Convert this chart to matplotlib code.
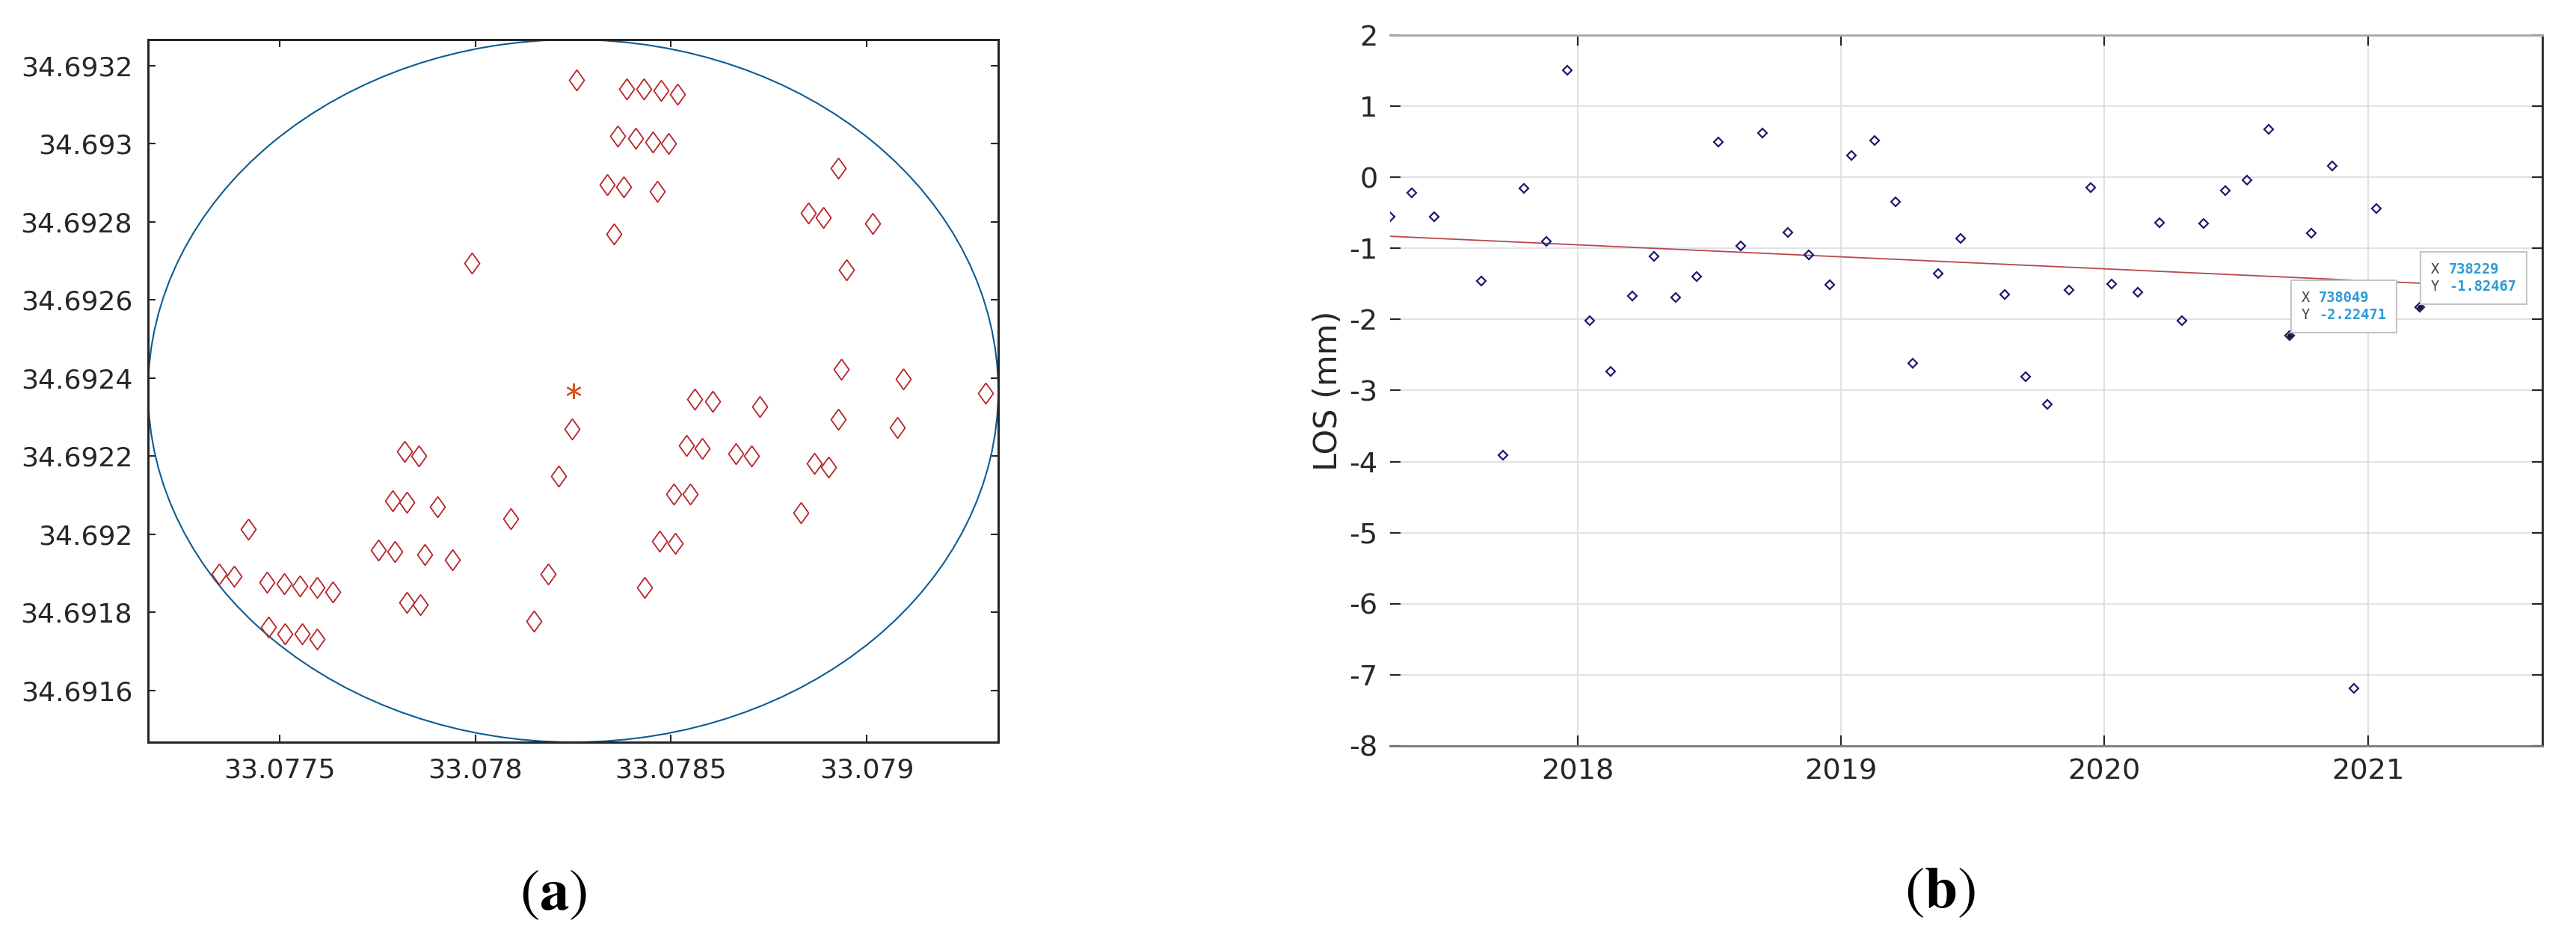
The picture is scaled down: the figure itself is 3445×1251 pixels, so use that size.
import numpy as np
import matplotlib
matplotlib.use("Agg")
import matplotlib.pyplot as plt
import matplotlib.dates as mdates
from matplotlib.patches import Ellipse
from matplotlib.offsetbox import TextArea, HPacker, VPacker, AnnotationBbox

plt.rcParams['font.family'] = ['DejaVu Sans']
plt.rcParams['axes.unicode_minus'] = False
plt.rcParams['mathtext.fontset'] = 'stix'

# ---------------- data: panel (a) ----------------
PS_LON = [33.078258, 33.078387, 33.078431, 33.078475, 33.078516, 33.078364, 33.078409,
          33.078453, 33.078494, 33.078926, 33.078337, 33.078378, 33.078465, 33.078851,
          33.078889, 33.079015, 33.078354, 33.077992, 33.078947, 33.078935, 33.079092,
          33.079302, 33.078561, 33.078605, 33.078726, 33.078926, 33.079077, 33.078248,
          33.078540, 33.078580, 33.078665, 33.078706, 33.077819, 33.077855, 33.078865,
          33.078901, 33.078212, 33.078506, 33.078549, 33.077789, 33.077825, 33.077903,
          33.078831, 33.078091, 33.077420, 33.078470, 33.078511, 33.077753, 33.077794,
          33.077872, 33.077942, 33.078187, 33.077346, 33.077384, 33.077469, 33.077512,
          33.077553, 33.077596, 33.077637, 33.078433, 33.077826, 33.077860, 33.078149,
          33.077473, 33.077515, 33.077558, 33.077596]
PS_LAT = [34.693163, 34.693141, 34.693141, 34.693137, 34.693127, 34.693020, 34.693015,
          34.693005, 34.693000, 34.692938, 34.692895, 34.692889, 34.692879, 34.692822,
          34.692811, 34.692795, 34.692769, 34.692695, 34.692677, 34.692422, 34.692397,
          34.692362, 34.692345, 34.692341, 34.692326, 34.692294, 34.692274, 34.692270,
          34.692228, 34.692219, 34.692207, 34.692201, 34.692211, 34.692201, 34.692181,
          34.692171, 34.692149, 34.692102, 34.692102, 34.692086, 34.692081, 34.692071,
          34.692055, 34.692039, 34.692013, 34.691982, 34.691977, 34.691960, 34.691956,
          34.691947, 34.691935, 34.691897, 34.691897, 34.691893, 34.691877, 34.691873,
          34.691868, 34.691863, 34.691851, 34.691863, 34.691826, 34.691820, 34.691778,
          34.691761, 34.691744, 34.691744, 34.691731]
CENTER_LON = 33.078250
CENTER_LAT = 34.692367
RADIUS_LON = 0.001085
RADIUS_LAT = 0.000900
A_XTICKS = [33.0775, 33.078, 33.0785, 33.079]
A_XTICKLABELS = ['33.0775', '33.078', '33.0785', '33.079']
A_YTICKS = [34.6916, 34.6918, 34.692, 34.6922, 34.6924, 34.6926, 34.6928, 34.693, 34.6932]
A_YTICKLABELS = ['34.6916', '34.6918', '34.692', '34.6922', '34.6924', '34.6926',
                 '34.6928', '34.693', '34.6932']

# ---------------- data: panel (b) ----------------
DATES = ['2017-04-16', '2017-05-16', '2017-06-16', '2017-08-20', '2017-09-20', '2017-10-19',
         '2017-11-19', '2017-12-18', '2018-01-18', '2018-02-16', '2018-03-18', '2018-04-17',
         '2018-05-17', '2018-06-15', '2018-07-15', '2018-08-15', '2018-09-14', '2018-10-20',
         '2018-11-18', '2018-12-17', '2019-01-16', '2019-02-17', '2019-03-18', '2019-04-11',
         '2019-05-16', '2019-06-16', '2019-08-16', '2019-09-14', '2019-10-14', '2019-11-14',
         '2019-12-14', '2020-01-12', '2020-02-17', '2020-03-18', '2020-04-18', '2020-05-18',
         '2020-06-17', '2020-07-17', '2020-08-16', '2020-09-15', '2020-10-15', '2020-11-13',
         '2020-12-13', '2021-01-13', '2021-03-14']
LOS_MM = [-0.55, -0.22, -0.55, -1.46, -3.91, -0.16, -0.90, 1.51, -2.02, -2.73, -1.67, -1.11,
          -1.69, -1.40, 0.50, -0.97, 0.62, -0.78, -1.09, -1.51, 0.31, 0.52, -0.34, -2.62,
          -1.35, -0.86, -1.65, -2.81, -3.19, -1.59, -0.14, -1.50, -1.62, -0.64, -2.02, -0.65,
          -0.19, -0.04, 0.67, -2.22471, -0.79, 0.16, -7.19, -0.44, -1.82467]
TREND_DATES = ['2017-04-16', '2021-03-14']
TREND_MM = [-0.83, -1.49]
TIP_DATES = ['2020-09-15', '2021-03-14']
TIP_X = ['738049', '738229']
TIP_Y = ['-2.22471', '-1.82467']
TIP_VALUES = [-2.22471, -1.82467]
B_XLIM = ['2017-04-16', '2021-08-31']
B_YTICKS = [-8, -7, -6, -5, -4, -3, -2, -1, 0, 1, 2]
B_YTICKLABELS = ['-8', '-7', '-6', '-5', '-4', '-3', '-2', '-1', '0', '1', '2']
PANEL_LABELS = [r'$(\mathbf{a})$', r'$(\mathbf{b})$']

W, H = 3445, 1251
fig = plt.figure(figsize=(W / 100, H / 100), dpi=100)
fig.patch.set_facecolor('white')

# ================= panel (a) =================
axa = fig.add_axes([198 / W, 1 - 993 / H, (1335 - 198) / W, (993 - 53) / H])
ell = Ellipse((CENTER_LON, CENTER_LAT), 2 * RADIUS_LON, 2 * RADIUS_LAT,
              fill=False, edgecolor='#0d5c91', lw=1.5, zorder=2)
axa.add_patch(ell)
tall_diamond = [(0, 1), (0.72, 0), (0, -1), (-0.72, 0), (0, 1)]
axa.plot(PS_LON, PS_LAT, linestyle='none', marker=tall_diamond, ms=20,
         mfc='none', mec='#b8242a', mew=1.3, zorder=3)
axa.plot([CENTER_LON], [CENTER_LAT], linestyle='none', marker=(6, 2, 0), ms=15,
         mec='#d95319', mew=1.6, zorder=4)
axa.set_xlim(CENTER_LON - RADIUS_LON, CENTER_LON + RADIUS_LON)
axa.set_ylim(CENTER_LAT - RADIUS_LAT, CENTER_LAT + RADIUS_LAT)
axa.set_xticks(A_XTICKS)
axa.set_xticklabels(A_XTICKLABELS)
axa.set_yticks(A_YTICKS)
axa.set_yticklabels(A_YTICKLABELS)
axa.tick_params(direction='in', length=7, width=1.5, top=True, right=True,
                labelsize=26, colors='#262626', pad=15)
for s in axa.spines.values():
    s.set_color('#262626')
    s.set_linewidth(2.2)

# ================= panel (b) =================
axb = fig.add_axes([1859 / W, 1 - 998 / H, (3400 - 1859) / W, (998 - 47) / H])
d = np.array(DATES, dtype='datetime64[D]')
axb.plot(np.array(TREND_DATES, dtype='datetime64[D]'), TREND_MM, color='#b5484f',
         lw=1.3, zorder=3)
axb.plot(d, LOS_MM, linestyle='none', marker='D', ms=6.5, mfc='none',
         mec='#1c1c6e', mew=1.6, zorder=4)
td = np.array(TIP_DATES, dtype='datetime64[D]')
axb.plot(td, TIP_VALUES, linestyle='none', marker='o', ms=4, mfc='#1a1a2e',
         mec='#1a1a2e', zorder=5)

lab_props = dict(color='#404040', fontsize=13.5, family='DejaVu Sans Mono')
val_props = dict(color='#2a9bd4', fontsize=13.5, family='DejaVu Sans Mono',
                 fontweight='bold')
for xd, yv, xs, ys in zip(td, TIP_VALUES, TIP_X, TIP_Y):
    row1 = HPacker(children=[TextArea('X', textprops=lab_props),
                             TextArea(xs, textprops=val_props)],
                   sep=9, pad=0, align='baseline')
    row2 = HPacker(children=[TextArea('Y', textprops=lab_props),
                             TextArea(ys, textprops=val_props)],
                   sep=9, pad=0, align='baseline')
    box = VPacker(children=[row1, row2], sep=3, pad=0, align='left')
    ab = AnnotationBbox(box, (xd, yv), xycoords='data', xybox=(15, 18),
                        boxcoords='offset pixels', box_alignment=(0, 0),
                        frameon=True, pad=1.0,
                        bboxprops=dict(fc='white', ec='#c4c4c4', lw=1.5),
                        annotation_clip=False, zorder=6)
    axb.add_artist(ab)

axb.set_xlim(np.datetime64(B_XLIM[0]), np.datetime64(B_XLIM[1]))
axb.set_ylim(B_YTICKS[0], B_YTICKS[-1])
axb.set_yticks(B_YTICKS)
axb.set_yticklabels(B_YTICKLABELS)
axb.xaxis.set_major_locator(mdates.YearLocator())
axb.xaxis.set_major_formatter(mdates.DateFormatter('%Y'))
axb.grid(True, color='#dedede', lw=1.3, zorder=0)
axb.set_axisbelow(True)
axb.tick_params(direction='in', length=10, width=1.6, top=True, right=True,
                labelsize=27.5, colors='#262626', pad=12)
axb.spines['left'].set_visible(False)
axb.spines['top'].set_color('#a8a8a8')
axb.spines['bottom'].set_color('#7a7a7a')
axb.spines['right'].set_color('#262626')
for s in axb.spines.values():
    s.set_linewidth(2.0)
axb.set_ylabel('LOS (mm)', fontsize=31, color='#262626')
axb.yaxis.set_label_coords(-0.040, 0.5)

# ================= panel labels =================
fig.text(740 / W, 1 - 1195 / H, PANEL_LABELS[0], fontsize=57, ha='center', va='center')
fig.text(2594 / W, 1 - 1192 / H, PANEL_LABELS[1], fontsize=57, ha='center', va='center')

fig.savefig('out.png', dpi=100, facecolor='white')
